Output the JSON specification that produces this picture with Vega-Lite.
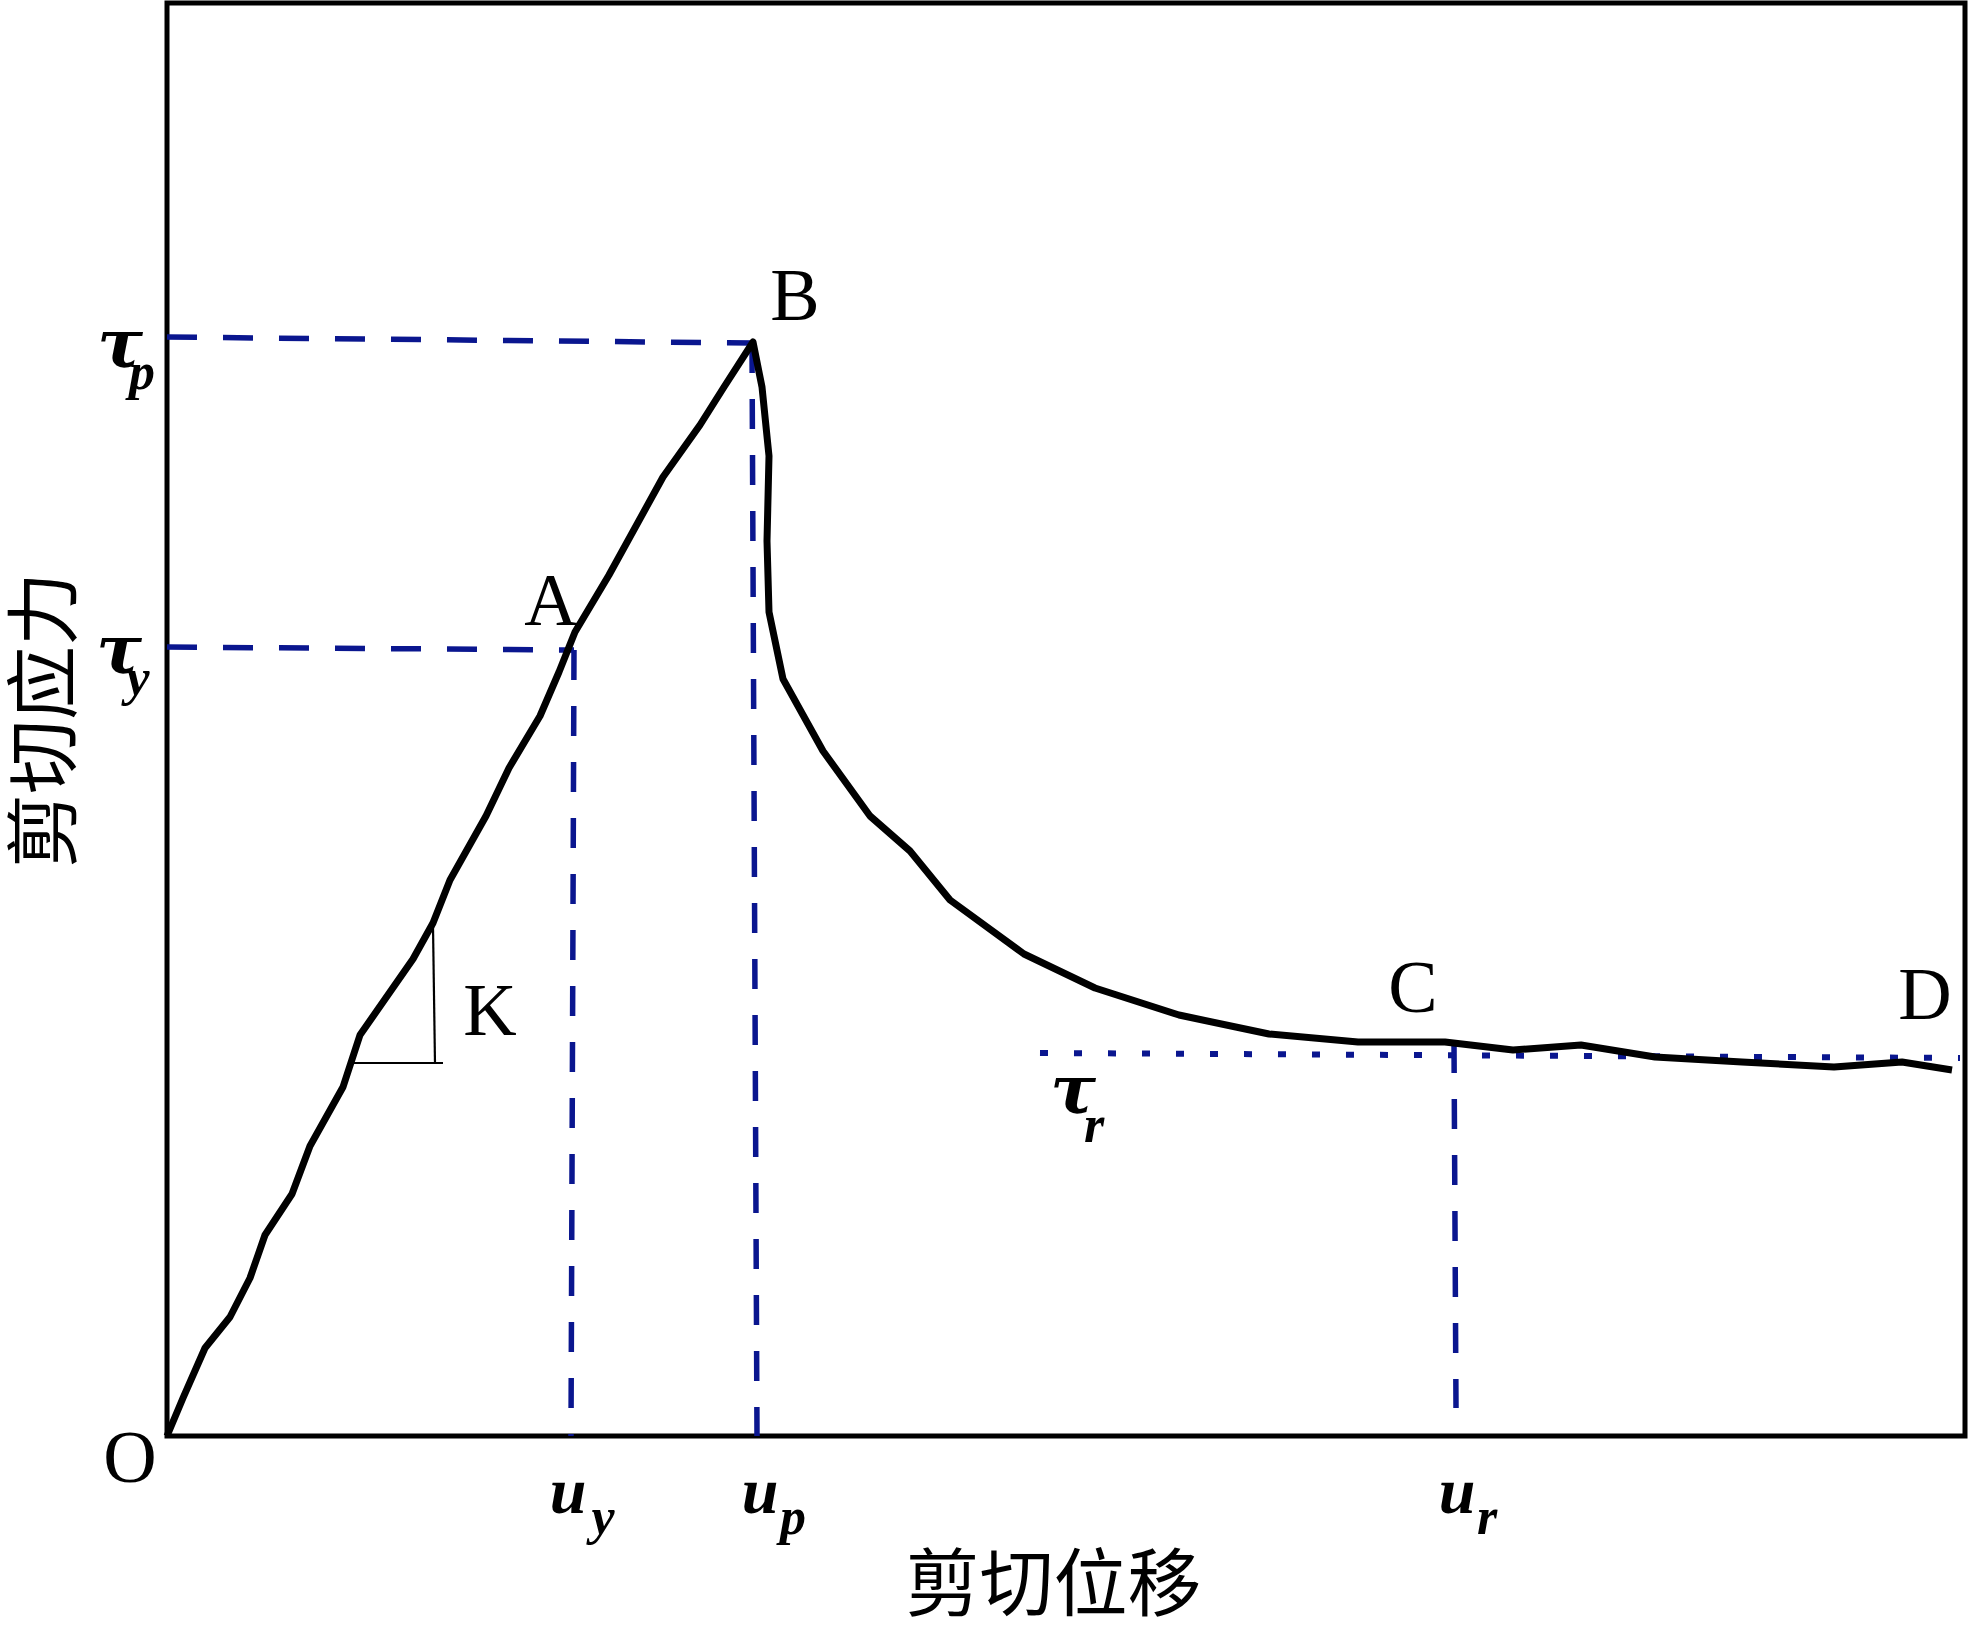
{
  "$schema": "https://vega.github.io/schema/vega-lite/v6.json",
  "width": 1798,
  "height": 1433,
  "autosize": {"type": "none"},
  "padding": {"left": 167, "top": 3, "right": 4, "bottom": 191},
  "background": "white",
  "config": {"view": {"stroke": "black", "strokeWidth": 5}},
  "datasets": {
    "curve": [
      {"i": 0, "x": 0, "y": 0},
      {"i": 1, "x": 1.6, "y": 3.8},
      {"i": 2, "x": 3.8, "y": 8.8},
      {"i": 3, "x": 6.3, "y": 11.9},
      {"i": 4, "x": 8.3, "y": 15.8},
      {"i": 5, "x": 9.8, "y": 20.1},
      {"i": 6, "x": 12.5, "y": 24.2},
      {"i": 7, "x": 14.3, "y": 29.0},
      {"i": 8, "x": 17.6, "y": 34.9},
      {"i": 9, "x": 19.3, "y": 40.1},
      {"i": 10, "x": 24.6, "y": 47.7},
      {"i": 11, "x": 26.6, "y": 51.3},
      {"i": 12, "x": 28.3, "y": 55.6},
      {"i": 13, "x": 31.9, "y": 62.0},
      {"i": 14, "x": 34.2, "y": 66.8},
      {"i": 15, "x": 37.3, "y": 72.0},
      {"i": 16, "x": 39.2, "y": 76.4},
      {"i": 17, "x": 40.8, "y": 80.4},
      {"i": 18, "x": 44.2, "y": 86.1},
      {"i": 19, "x": 49.6, "y": 95.9},
      {"i": 20, "x": 53.3, "y": 101.1},
      {"i": 21, "x": 55.7, "y": 104.9},
      {"i": 22, "x": 58.6, "y": 109.4},
      {"i": 23, "x": 59.5, "y": 104.9},
      {"i": 24, "x": 60.2, "y": 98.0},
      {"i": 25, "x": 60.0, "y": 89.5},
      {"i": 26, "x": 60.2, "y": 82.4},
      {"i": 27, "x": 61.6, "y": 75.7},
      {"i": 28, "x": 65.6, "y": 68.5},
      {"i": 29, "x": 70.3, "y": 62.0},
      {"i": 30, "x": 74.3, "y": 58.5},
      {"i": 31, "x": 78.3, "y": 53.6},
      {"i": 32, "x": 85.7, "y": 48.2},
      {"i": 33, "x": 92.8, "y": 44.8},
      {"i": 34, "x": 101.2, "y": 42.1},
      {"i": 35, "x": 110.2, "y": 40.2},
      {"i": 36, "x": 119.1, "y": 39.4},
      {"i": 37, "x": 127.8, "y": 39.4},
      {"i": 38, "x": 134.6, "y": 38.6},
      {"i": 39, "x": 141.4, "y": 39.1},
      {"i": 40, "x": 148.8, "y": 37.9},
      {"i": 41, "x": 157.5, "y": 37.4},
      {"i": 42, "x": 166.7, "y": 36.9},
      {"i": 43, "x": 173.5, "y": 37.4},
      {"i": 44, "x": 178.5, "y": 36.6}
    ],
    "dashed": [
      {"seg": "tp", "i": 0, "x": 0, "y": 109.9},
      {"seg": "tp", "i": 1, "x": 58.5, "y": 109.3},
      {"seg": "up", "i": 0, "x": 58.5, "y": 109.3},
      {"seg": "up", "i": 1, "x": 59.0, "y": 0},
      {"seg": "ty", "i": 0, "x": 0, "y": 78.9},
      {"seg": "ty", "i": 1, "x": 40.7, "y": 78.6},
      {"seg": "uy", "i": 0, "x": 40.7, "y": 78.6},
      {"seg": "uy", "i": 1, "x": 40.4, "y": 0},
      {"seg": "ur", "i": 0, "x": 128.7, "y": 39.3},
      {"seg": "ur", "i": 1, "x": 128.9, "y": 2.8}
    ],
    "dotted": [
      {"i": 0, "x": 87.3, "y": 38.3},
      {"i": 1, "x": 179.3, "y": 37.8}
    ],
    "slope": [
      {"seg": "h", "i": 0, "x": 18.1, "y": 37.3},
      {"seg": "h", "i": 1, "x": 27.6, "y": 37.3},
      {"seg": "v", "i": 0, "x": 26.6, "y": 51.0},
      {"seg": "v", "i": 1, "x": 26.8, "y": 37.2}
    ],
    "letters": [
      {"t": "A", "x": 38.4, "y": 81.1},
      {"t": "B", "x": 62.8, "y": 111.6},
      {"t": "C", "x": 124.6, "y": 42.4},
      {"t": "D", "x": 175.8, "y": 41.7},
      {"t": "K", "x": 32.3, "y": 40.1},
      {"t": "O", "x": -3.7, "y": -4.6}
    ],
    "taus": [
      {"t": "τ", "x": -4.7, "y": 106.9},
      {"t": "τ", "x": -4.8, "y": 76.3},
      {"t": "τ", "x": 90.6, "y": 32.3}
    ],
    "us": [
      {"t": "u", "x": 40.1, "y": -7.7},
      {"t": "u", "x": 59.3, "y": -7.7},
      {"t": "u", "x": 129.0, "y": -7.7}
    ],
    "subs": [
      {"t": "p", "x": -2.5, "y": 104.7},
      {"t": "y", "x": -2.9, "y": 74.1},
      {"t": "r", "x": 92.7, "y": 29.4},
      {"t": "y", "x": 43.6, "y": -9.8},
      {"t": "p", "x": 62.6, "y": -9.8},
      {"t": "r", "x": 132.0, "y": -9.8}
    ]
  },
  "encoding": {
    "x": {
      "field": "x",
      "type": "quantitative",
      "scale": {"domain": [0, 179.8], "nice": false, "zero": false},
      "axis": {
        "title": "剪切位移",
        "labels": false,
        "ticks": false,
        "domain": false,
        "grid": false,
        "titleFont": "Noto Sans CJK SC",
        "titleFontSize": 74,
        "titleFontWeight": "normal",
        "titleColor": "black",
        "titlePadding": 115,
        "titleX": 886
      }
    },
    "y": {
      "field": "y",
      "type": "quantitative",
      "scale": {"domain": [0, 143.3], "nice": false, "zero": false},
      "axis": {
        "title": "剪切应力",
        "labels": false,
        "ticks": false,
        "domain": false,
        "grid": false,
        "titleFont": "Noto Sans CJK SC",
        "titleFontSize": 74,
        "titleFontWeight": "normal",
        "titleColor": "black",
        "titlePadding": 82
      }
    }
  },
  "layer": [
    {
      "data": {"name": "dashed"},
      "mark": {"type": "line", "color": "#0a168f", "strokeWidth": 5.5, "strokeDash": [30, 26], "strokeCap": "butt"},
      "encoding": {
        "detail": {"field": "seg"},
        "order": {"field": "i", "type": "quantitative"}
      }
    },
    {
      "data": {"name": "dotted"},
      "mark": {"type": "line", "color": "#0a168f", "strokeWidth": 6, "strokeDash": [8, 26], "strokeCap": "butt"},
      "encoding": {
        "order": {"field": "i", "type": "quantitative"}
      }
    },
    {
      "data": {"name": "curve"},
      "mark": {"type": "line", "color": "black", "strokeWidth": 7, "strokeJoin": "round"},
      "encoding": {
        "order": {"field": "i", "type": "quantitative"}
      }
    },
    {
      "data": {"name": "slope"},
      "mark": {"type": "line", "color": "black", "strokeWidth": 2.2},
      "encoding": {
        "detail": {"field": "seg"},
        "order": {"field": "i", "type": "quantitative"}
      }
    },
    {
      "data": {"name": "letters"},
      "mark": {"type": "text", "font": "Liberation Serif", "fontSize": 74, "align": "center", "baseline": "alphabetic", "color": "black"},
      "encoding": {"text": {"field": "t"}}
    },
    {
      "data": {"name": "taus"},
      "mark": {"type": "text", "font": "DejaVu Serif", "fontSize": 68, "fontStyle": "italic", "fontWeight": "bold", "align": "center", "baseline": "alphabetic", "color": "black"},
      "encoding": {"text": {"field": "t"}}
    },
    {
      "data": {"name": "us"},
      "mark": {"type": "text", "font": "Liberation Serif", "fontSize": 66, "fontStyle": "italic", "fontWeight": "bold", "align": "center", "baseline": "alphabetic", "color": "black"},
      "encoding": {"text": {"field": "t"}}
    },
    {
      "data": {"name": "subs"},
      "mark": {"type": "text", "font": "Liberation Serif", "fontSize": 52, "fontStyle": "italic", "fontWeight": "bold", "align": "center", "baseline": "alphabetic", "color": "black"},
      "encoding": {"text": {"field": "t"}}
    }
  ]
}
